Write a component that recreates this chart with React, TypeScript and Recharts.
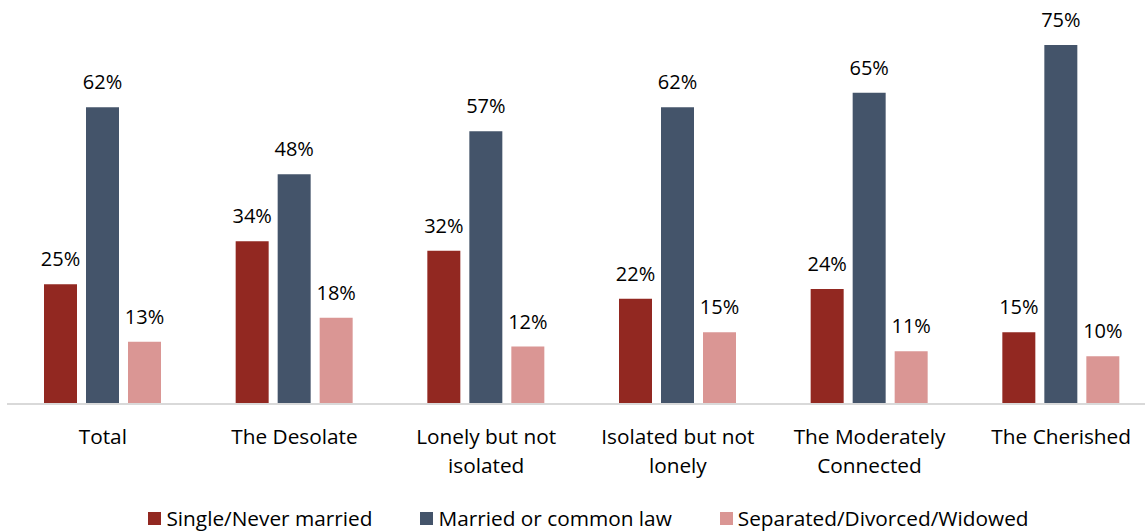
import React from "react";
import { BarChart, Bar, XAxis, YAxis, LabelList, Legend } from "recharts";

const categories = ["Total", "The Desolate", "Lonely but not isolated", "Isolated but not lonely", "The Moderately Connected", "The Cherished"];
const categoryLines: string[][] = [
  ["Total"],
  ["The Desolate"],
  ["Lonely but not", "isolated"],
  ["Isolated but not", "lonely"],
  ["The Moderately", "Connected"],
  ["The Cherished"],
];
const single = [25, 34, 32, 22, 24, 15];
const married = [62, 48, 57, 62, 65, 75];
const separated = [13, 18, 12, 15, 11, 10];

const seriesNames = ["Single/Never married", "Married or common law", "Separated/Divorced/Widowed"];
const colors = ["#922821", "#44546A", "#DA9694"];

const data = categories.map((c, i) => ({
  name: c,
  idx: i,
  single: single[i],
  married: married[i],
  separated: separated[i],
}));

const FONT = "'Open Sans', 'Noto Sans', sans-serif";
const FS = 20.8;
const LFS = 20;

const Tick = (props: any) => {
  const { x, y, payload } = props;
  const lines = categoryLines[payload.index] || [String(payload.value)];
  return (
    <g>
      {lines.map((l, k) => (
        <text key={k} x={x} y={y + 40 + k * 29} textAnchor="middle" fontSize={FS} fontFamily={FONT} fill="#000">
          {l}
        </text>
      ))}
    </g>
  );
};

const LegendContent = () => (
  <div style={{ display: "flex", justifyContent: "center", paddingLeft: 13, paddingTop: 3, fontFamily: FONT, fontSize: FS, color: "#000", lineHeight: "28px" }}>
    {seriesNames.map((n, i) => (
      <div key={n} style={{ display: "flex", alignItems: "center", marginRight: i < 2 ? 48 : 0 }}>
        <span style={{ width: 13, height: 13, background: colors[i], display: "inline-block", marginRight: 5 }} />
        <span>{n}</span>
      </div>
    ))}
  </div>
);

const labelFmt = (v: any) => `${v}%`;

export default function App() {
  return (
    <div style={{ position: "absolute", left: 0, top: 0, width: 1145, height: 531, overflow: "hidden", background: "#fff" }}>
      <BarChart
        width={1160}
        height={531}
        data={data}
        margin={{ top: 45, right: 3, bottom: 0, left: 7 }}
        barSize={33}
        barGap={9}
      >
        <XAxis
          dataKey="name"
          axisLine={{ stroke: "#d9d9d9", strokeWidth: 2 }}
          tickLine={false}
          tickSize={0}
          tickMargin={0}
          height={97}
          interval={0}
          tick={<Tick />}
        />
        <YAxis hide domain={[0, 75]} />
        <Legend verticalAlign="bottom" wrapperStyle={{ height: 30 }} content={<LegendContent />} />
        <Bar dataKey="single" fill={colors[0]} isAnimationActive={false}>
          <LabelList dataKey="single" position="top" offset={18} formatter={labelFmt} fontSize={LFS} fontFamily={FONT} fill="#000" />
        </Bar>
        <Bar dataKey="married" fill={colors[1]} isAnimationActive={false}>
          <LabelList dataKey="married" position="top" offset={18} formatter={labelFmt} fontSize={LFS} fontFamily={FONT} fill="#000" />
        </Bar>
        <Bar dataKey="separated" fill={colors[2]} isAnimationActive={false}>
          <LabelList dataKey="separated" position="top" offset={18} formatter={labelFmt} fontSize={LFS} fontFamily={FONT} fill="#000" />
        </Bar>
      </BarChart>
    </div>
  );
}
